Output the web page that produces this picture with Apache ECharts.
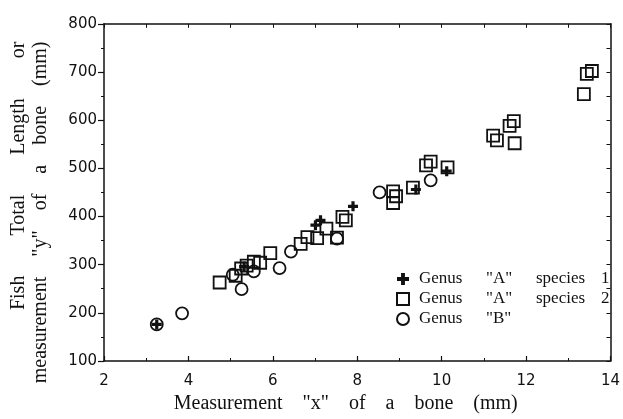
<!DOCTYPE html>
<html>
<head>
<meta charset="utf-8">
<script src="https://cdn.jsdelivr.net/npm/echarts@6/dist/echarts.min.js"></script>
<style>html,body{margin:0;padding:0;background:#fff}#c{width:623px;height:419px}</style>
</head>
<body>
<div id="c"></div>
<script>
var seriesNames = ['Genus "A" species 1', 'Genus "A" species 2', 'Genus "B"'];
var species1 = [[3.25,176],[5.32,296],[7.01,382],[7.13,392],[7.9,421],[9.39,456],[10.12,494]];
var species2 = [[4.74,263],[5.12,277],[5.25,292],[5.38,298],[5.55,306],[5.7,304],[5.94,324],[6.66,343],[6.82,357],[7.05,355],[7.27,375],[7.52,356],[7.65,399],[7.73,392],[8.85,452],[8.92,442],[8.85,428],[9.32,460],[9.63,506],[9.74,514],[10.14,502],[11.22,568],[11.31,558],[11.61,588],[11.71,598],[11.73,552],[13.37,654],[13.44,696],[13.56,702]];
var genusB = [[3.25,176],[3.85,199],[5.05,279],[5.26,249],[5.55,286],[6.16,293],[6.43,327],[7.52,354],[8.53,450],[9.74,475]];
var xTitle = 'Measurement    "x"    of    a    bone    (mm)';
var yTitle1 = 'Fish        Total        Length        or';
var yTitle2 = 'measurement    "y"    of    a    bone    (mm)';

var plusPath = 'path://M3.4,0H6.6V3.4H10V6.6H6.6V10H3.4V6.6H0V3.4H3.4Z';
var ink = '#111';
var serif = 'Liberation Serif';
var sans = 'DejaVu Sans';

var chart = echarts.init(document.getElementById('c'), null, {renderer: 'canvas'});
chart.setOption({
  animation: false,
  backgroundColor: '#fff',
  grid: {left: 103, right: 6, top: 14, bottom: 55},
  legend: {
    left: 396, top: 269, orient: 'vertical', padding: 0,
    itemWidth: 12, itemHeight: 12, itemGap: 0,
    selectedMode: false,
    data: seriesNames,
    formatter: function (name) {
      var w = name.split(' ');
      var s = '{g|' + w[0] + '}{q|' + w[1] + '}';
      if (w.length > 2) s += '{s|' + w[2] + '}{n|' + w[3] + '}';
      return s;
    },
    textStyle: {
      fontFamily: serif, fontSize: 17, color: ink, lineHeight: 20,
      rich: {
        g: {fontFamily: serif, fontSize: 17, color: ink, lineHeight: 20, width: 67, padding: [0,0,0,5]},
        q: {fontFamily: serif, fontSize: 17, color: ink, lineHeight: 20, width: 50},
        s: {fontFamily: serif, fontSize: 17, color: ink, lineHeight: 20, width: 65},
        n: {fontFamily: serif, fontSize: 17, color: ink, lineHeight: 20}
      }
    }
  },
  xAxis: [{
    type: 'value', min: 2, max: 14, interval: 2, position: 'bottom',
    axisLine: {show: true, onZero: false, lineStyle: {color: ink, width: 1.5}},
    axisTick: {show: true, inside: true, length: 5, lineStyle: {color: ink, width: 1.2}},
    minorTick: {show: true, splitNumber: 2, length: 3, lineStyle: {color: ink, width: 1}},
    splitLine: {show: false},
    axisLabel: {fontFamily: sans, fontSize: 15, color: ink, margin: 13},
    name: xTitle, nameLocation: 'middle', nameGap: 33,
    nameTextStyle: {fontFamily: serif, fontSize: 20, color: ink, padding: [0, 23, 0, 0]}
  }, {
    type: 'value', min: 2, max: 14, interval: 1, position: 'top',
    axisLine: {show: true, onZero: false, lineStyle: {color: ink, width: 1.5}},
    axisTick: {show: true, inside: true, length: 4, lineStyle: {color: ink, width: 1}},
    splitLine: {show: false}, axisLabel: {show: false}
  }],
  yAxis: [{
    type: 'value', min: 100, max: 800, interval: 100, position: 'left',
    axisLine: {show: true, onZero: false, lineStyle: {color: ink, width: 1.5}},
    axisTick: {show: true, inside: false, length: 6, lineStyle: {color: ink, width: 1.2}},
    minorTick: {show: true, splitNumber: 2, length: 3, lineStyle: {color: ink, width: 1}},
    splitLine: {show: false},
    axisLabel: {fontFamily: sans, fontSize: 15, color: ink, margin: 7},
    name: '{a|' + yTitle1 + '}\n{b|' + yTitle2 + '}',
    nameLocation: 'middle', nameRotate: 90, nameGap: 52,
    nameTextStyle: {
      fontFamily: serif, fontSize: 20, color: ink, lineHeight: 22, padding: [0, 40, 0, 0],
      rich: {
        a: {fontFamily: serif, fontSize: 20, color: ink, lineHeight: 22, align: 'right'},
        b: {fontFamily: serif, fontSize: 20, color: ink, lineHeight: 22, align: 'right'}
      }
    }
  }, {
    type: 'value', min: 100, max: 800, interval: 50, position: 'right',
    axisLine: {show: true, onZero: false, lineStyle: {color: ink, width: 1.5}},
    axisTick: {show: true, inside: true, length: 4, lineStyle: {color: ink, width: 1}},
    splitLine: {show: false}, axisLabel: {show: false}
  }],
  series: [{
    name: seriesNames[0], type: 'scatter', xAxisIndex: 0, yAxisIndex: 0,
    symbol: plusPath, symbolSize: 10, data: species1, z: 3,
    itemStyle: {color: ink, opacity: 1}
  }, {
    name: seriesNames[1], type: 'scatter', xAxisIndex: 0, yAxisIndex: 0,
    symbol: 'rect', symbolSize: 12, data: species2, z: 2,
    itemStyle: {color: 'rgba(255,255,255,0)', borderColor: ink, borderWidth: 1.8, opacity: 1}
  }, {
    name: seriesNames[2], type: 'scatter', xAxisIndex: 0, yAxisIndex: 0,
    symbol: 'circle', symbolSize: 12, data: genusB, z: 2,
    itemStyle: {color: 'rgba(255,255,255,0)', borderColor: ink, borderWidth: 1.8, opacity: 1}
  }]
});
</script>
</body>
</html>
